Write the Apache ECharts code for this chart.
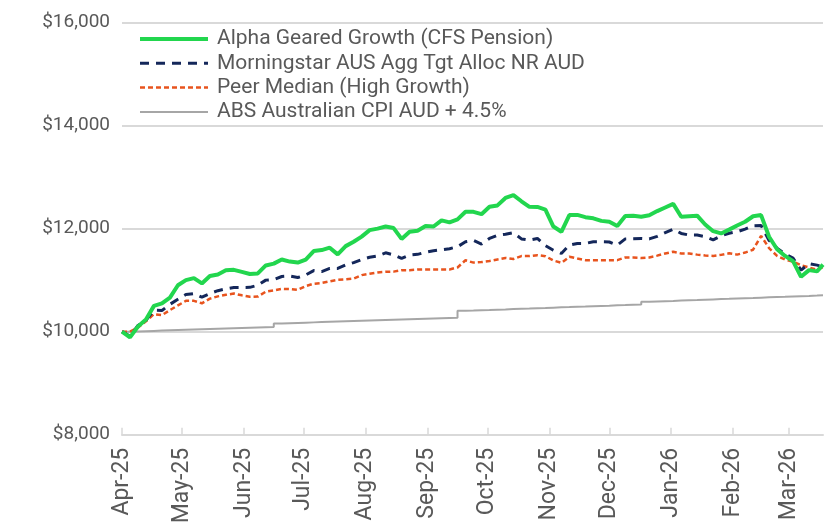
<!DOCTYPE html>
<html>
<head>
<meta charset="utf-8">
<script src="https://cdn.jsdelivr.net/npm/echarts@6/dist/echarts.min.js"></script>
<style>
html,body{margin:0;padding:0;background:#fff;}
#chart{width:829px;height:529px;}
</style>
</head>
<body>
<div id="chart"></div>
<script>
// ---- data ----
const seriesNames = [
  'Alpha Geared Growth (CFS Pension)',
  'Morningstar AUS Agg Tgt Alloc NR AUD',
  'Peer Median (High Growth)',
  'ABS Australian CPI AUD + 4.5%'
];
const dates = [
  '2025-04-01','2025-04-05','2025-04-09','2025-04-13','2025-04-17','2025-04-21','2025-04-25','2025-04-29',
  '2025-05-03','2025-05-07','2025-05-11','2025-05-15','2025-05-19','2025-05-23','2025-05-27','2025-05-31',
  '2025-06-04','2025-06-08','2025-06-12','2025-06-16','2025-06-20','2025-06-24','2025-06-28','2025-07-02',
  '2025-07-06','2025-07-10','2025-07-14','2025-07-18','2025-07-22','2025-07-26','2025-07-30','2025-08-03',
  '2025-08-07','2025-08-11','2025-08-15','2025-08-19','2025-08-23','2025-08-27','2025-08-31','2025-09-04',
  '2025-09-08','2025-09-12','2025-09-16','2025-09-20','2025-09-24','2025-09-28','2025-10-02','2025-10-06',
  '2025-10-10','2025-10-14','2025-10-18','2025-10-22','2025-10-26','2025-10-30','2025-11-03','2025-11-07',
  '2025-11-11','2025-11-15','2025-11-19','2025-11-23','2025-11-27','2025-12-01','2025-12-05','2025-12-09',
  '2025-12-13','2025-12-17','2025-12-21','2025-12-25','2025-12-29','2026-01-02','2026-01-06','2026-01-10',
  '2026-01-14','2026-01-18','2026-01-22','2026-01-26','2026-01-30','2026-02-03','2026-02-07','2026-02-11',
  '2026-02-15','2026-02-19','2026-02-23','2026-02-27','2026-03-03','2026-03-07','2026-03-11','2026-03-15',
  '2026-03-18'
];
const alphaGeared = [
  10000, 9890,10100,10237,10500,10548,10660,10900,
  11000,11040,10936,11080,11110,11190,11200,11160,
  11120,11130,11285,11320,11400,11360,11340,11400,
  11565,11583,11630,11500,11660,11744,11845,11970,
  12000,12040,12010,11800,11938,11960,12050,12040,
  12160,12120,12179,12326,12326,12280,12423,12450,
  12595,12650,12530,12423,12420,12370,12040,11938,
  12262,12265,12222,12200,12150,12133,12050,12245,
  12250,12230,12260,12340,12410,12480,12230,12240,
  12250,12080,11950,11906,11980,12060,12133,12240,
  12262,11841,11600,11470,11370,11064,11194,11170,
  11300
];
const morningstar = [
  10000, 9910,10120,10220,10415,10410,10530,10630,
  10720,10740,10670,10740,10795,10830,10858,10858,
  10860,10900,11000,11010,11070,11080,11050,11100,
  11185,11165,11227,11227,11295,11340,11400,11445,
  11470,11530,11490,11420,11485,11500,11540,11570,
  11590,11610,11647,11744,11770,11700,11809,11870,
  11890,11920,11800,11777,11809,11670,11580,11518,
  11680,11712,11712,11744,11744,11740,11680,11800,
  11805,11810,11800,11850,11920,11990,11906,11874,
  11874,11845,11780,11860,11910,11938,11990,12055,
  12060,11770,11620,11510,11430,11194,11320,11291,
  11258
];
const peerMedian = [
  10000,10000,10080,10200,10340,10320,10418,10510,
  10598,10598,10550,10640,10685,10715,10740,10705,
  10676,10680,10775,10800,10830,10825,10810,10885,
  10930,10945,10975,11005,11015,11030,11097,11125,
  11150,11161,11165,11194,11194,11205,11207,11207,
  11207,11207,11246,11385,11340,11350,11370,11400,
  11430,11410,11466,11466,11485,11465,11380,11336,
  11453,11420,11388,11388,11388,11388,11388,11440,
  11440,11430,11440,11475,11518,11550,11518,11518,
  11495,11478,11470,11490,11520,11495,11535,11590,
  11860,11620,11470,11400,11360,11290,11245,11200,
  11250
];
const cpiPlus = [
  10000,10005,10010,10015,10020,10025,10030,10035,
  10040,10045,10050,10055,10060,10065,10070,10075,
  10080,10085,10090,10160,10165,10170,10175,10180,
  10185,10190,10195,10200,10205,10210,10215,10220,
  10225,10230,10235,10240,10245,10250,10255,10260,
  10265,10270,10405,10410,10416,10421,10427,10432,
  10438,10444,10449,10455,10460,10466,10472,10477,
  10483,10488,10494,10500,10505,10511,10516,10522,
  10527,10580,10586,10592,10597,10603,10609,10614,
  10620,10626,10632,10637,10643,10649,10654,10660,
  10666,10672,10677,10683,10689,10694,10700,10706,
  10710
];
const monthTicks = [
  '2025-04-01','2025-05-01','2025-06-01','2025-07-01','2025-08-01','2025-09-01',
  '2025-10-01','2025-11-01','2025-12-01','2026-01-01','2026-02-01','2026-03-01'
];
const monthLabels = [
  'Apr-25','May-25','Jun-25','Jul-25','Aug-25','Sep-25',
  'Oct-25','Nov-25','Dec-25','Jan-26','Feb-26','Mar-26'
];
const xStart = '2025-04-01';
const xEnd = '2026-03-18';
const yMin = 8000, yMax = 16000, yStep = 2000;

// ---- build ----
const DAY = 86400000;
const ts = s => Math.round(new Date(s + 'T00:00:00Z').getTime() / DAY);
const tickDays = monthTicks.map(ts);
const labelMap = {};
tickDays.forEach((t, i) => { labelMap[t] = monthLabels[i]; });
const pair = arr => dates.map((d, i) => [ts(d), arr[i]]);

const colors = ['#22D64E', '#14275A', '#E8541E', '#A6A6A6'];
const chart = echarts.init(document.getElementById('chart'), null, {renderer: 'canvas'});
chart.setOption({
  animation: false,
  color: colors,
  textStyle: {fontFamily: 'Roboto'},
  grid: {left: 122, right: 6, top: 22.5, bottom: 94.3},
  legend: {
    orient: 'vertical',
    left: 138,
    top: 28.5,
    padding: 0,
    itemWidth: 68,
    itemHeight: 14,
    itemGap: 3.3,
    itemStyle: {opacity: 0},
    lineStyle: {width: 'inherit'},
    textStyle: {fontSize: 21, color: '#595959', fontFamily: 'Roboto', padding: [0, 0, 0, 4]},
    data: seriesNames
  },
  xAxis: {
    type: 'value',
    min: ts(xStart),
    max: ts(xEnd),
    axisLine: {show: true, lineStyle: {color: '#D9D9D9', width: 2}},
    axisTick: {show: true, inside: true, length: 7, lineStyle: {color: '#D9D9D9', width: 1.5}, customValues: tickDays},
    axisLabel: {
      customValues: tickDays,
      rotate: 90,
      fontSize: 23,
      color: '#595959',
      margin: 13,
      formatter: v => labelMap[v] || ''
    },
    splitLine: {show: false}
  },
  yAxis: {
    type: 'value',
    min: yMin,
    max: yMax,
    interval: yStep,
    axisLine: {show: false},
    axisTick: {show: false},
    axisLabel: {
      fontSize: 19,
      color: '#595959',
      margin: 12,
      formatter: v => '$' + v.toLocaleString('en-US')
    },
    splitLine: {lineStyle: {color: '#D9D9D9', width: 2}}
  },
  series: [
    {name: seriesNames[0], type: 'line', symbol: 'none', z: 5, data: pair(alphaGeared),
     lineStyle: {color: colors[0], width: 4}},
    {name: seriesNames[1], type: 'line', symbol: 'none', z: 4, data: pair(morningstar),
     lineStyle: {color: colors[1], width: 3, type: [9, 7]}},
    {name: seriesNames[2], type: 'line', symbol: 'none', z: 3, data: pair(peerMedian),
     lineStyle: {color: colors[2], width: 2.5, type: [5, 3]}},
    {name: seriesNames[3], type: 'line', symbol: 'none', z: 2, step: 'end', data: pair(cpiPlus),
     lineStyle: {color: colors[3], width: 2}}
  ]
});
</script>
</body>
</html>
